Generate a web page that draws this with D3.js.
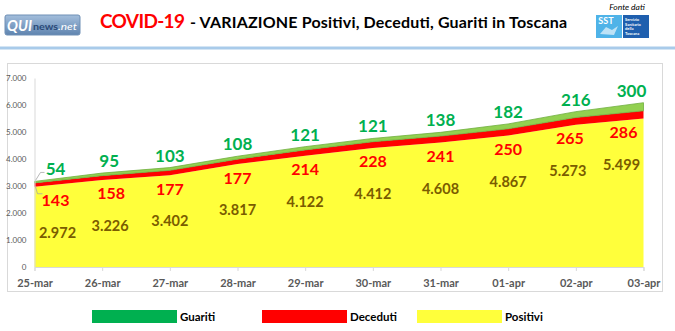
<!DOCTYPE html>
<html><head><meta charset="utf-8">
<script src="https://cdn.jsdelivr.net/npm/d3@7"></script>
<style>
html,body{margin:0;padding:0;background:#fff;}
svg{display:block;font-family:Lato,"Open Sans",sans-serif;}
</style></head>
<body>
<svg id="c" width="675" height="331"></svg>
<script>
const categories = ["25-mar","26-mar","27-mar","28-mar","29-mar","30-mar","31-mar","01-apr","02-apr","03-apr"];
const positivi = [2972,3226,3402,3817,4122,4412,4608,4867,5273,5499];
const deceduti = [143,158,177,177,214,228,241,250,265,286];
const guariti  = [54,95,103,108,121,121,138,182,216,300];
const yTicks = [0,1000,2000,3000,4000,5000,6000,7000];
const seriesNames = ["Positivi","Deceduti","Guariti"];

const svg = d3.select("#c");
const W = 675, H = 331;
svg.append("rect").attr("width",W).attr("height",H).attr("fill","#fff");

const loc = d3.formatLocale({decimal:",",thousands:".",grouping:[3],currency:["",""]});
const fmt = loc.format(",d");

// header
svg.append("rect").attr("x",0).attr("y",46.5).attr("width",W).attr("height",3).attr("fill","#A9CBEA");
svg.append("text").attr("x",100).attr("y",28).attr("font-weight","bold")
  .attr("fill","#FF0000").attr("font-size",19).attr("textLength",85).text("COVID-19");
svg.append("text").attr("x",190).attr("y",28).attr("font-weight","bold")
  .attr("fill","#000").attr("font-size",16).attr("textLength",377).text("- VARIAZIONE Positivi, Deceduti, Guariti in Toscana");

// QUInews logo
const defs = svg.append("defs");
const lg = defs.append("linearGradient").attr("id","qg").attr("x1",0).attr("y1",0).attr("x2",0).attr("y2",1);
lg.append("stop").attr("offset","0%").attr("stop-color","#A3BEDC");
lg.append("stop").attr("offset","100%").attr("stop-color","#5F84AF");
svg.append("rect").attr("x",5).attr("y",15).attr("width",75).attr("height",20).attr("rx",2).attr("fill","url(#qg)").attr("stroke","#6E8FB5");
svg.append("text").attr("x",7).attr("y",31).attr("font-style","italic").attr("font-weight","bold")
  .attr("fill","#fff").attr("font-size",16).attr("textLength",25).attr("lengthAdjust","spacingAndGlyphs").text("QUI");
svg.append("text").attr("x",33).attr("y",30).attr("font-weight","bold")
  .attr("fill","#2B4A78").attr("font-size",10).attr("textLength",25).attr("lengthAdjust","spacingAndGlyphs").text("news");
svg.append("text").attr("x",58).attr("y",30).attr("font-style","italic")
  .attr("fill","#fff").attr("font-size",10).attr("textLength",19).attr("lengthAdjust","spacingAndGlyphs").text(".net");

// SST logo
svg.append("text").attr("x",627).attr("y",10).attr("text-anchor","middle").attr("font-style","italic").attr("font-size",8.5).attr("fill","#000").text("Fonte dati");
svg.append("rect").attr("x",596).attr("y",15).attr("width",26).attr("height",23).attr("fill","#4FB3E8");
svg.append("rect").attr("x",623).attr("y",15).attr("width",26).attr("height",23).attr("fill","#1F5FAE");
svg.append("text").attr("x",606).attr("y",24).attr("text-anchor","middle").attr("font-size",9).attr("font-weight","bold").attr("fill","#fff").text("SST");
svg.append("path").attr("d","M600,34 L606,27 L612,30 L618,26 L614,35 Z").attr("fill","#D8EEF9").attr("opacity",0.8);
["Servizio","Sanitario","della","Toscana"].forEach((t,i)=>{
  svg.append("text").attr("x",625).attr("y",21+i*4.6).attr("font-size",4).attr("font-weight","bold").attr("fill","#fff").text(t);
});

// chart border
svg.append("rect").attr("x",7.5).attr("y",63.5).attr("width",655).attr("height",228).attr("fill","none").attr("stroke","#D9D9D9");

const x = d3.scalePoint().domain(categories).range([34.5,643.5]);
const y = d3.scaleLinear().domain([0,7000]).range([267,78]);

const rows = categories.map((c,i)=>({cat:c,Positivi:positivi[i],Deceduti:deceduti[i],Guariti:guariti[i]}));
const stack = d3.stack().keys(seriesNames)(rows);
const fills = {Positivi:"#FFFF3B",Deceduti:"#FF0000",Guariti:"#92D050"};
const area = d3.area().x(d=>x(d.data.cat)).y0(d=>y(d[0])).y1(d=>y(d[1]));
svg.append("g").selectAll("path").data(stack).join("path")
  .attr("d",area).attr("fill",d=>fills[d.key])
  .attr("stroke",d=>d.key==="Guariti"?"#6FAE3E":"none").attr("stroke-width",0.8);

// axes
const yAxis = d3.axisLeft(y).tickValues(yTicks).tickSize(0).tickPadding(8).tickFormat(fmt);
const gy = svg.append("g").attr("transform","translate(34.5,0)").call(yAxis);
gy.select(".domain").attr("stroke","#D9D9D9");
gy.selectAll("text").attr("font-size",8).attr("fill","#595959").attr("font-family","Lato");

const xAxis = d3.axisBottom(x).tickSize(4).tickPadding(8);
const gx = svg.append("g").attr("transform","translate(0,267)").call(xAxis);
gx.select(".domain").attr("stroke","#D9D9D9");
gx.selectAll("line").attr("stroke","#D9D9D9");
gx.selectAll("text").attr("font-size",11).attr("font-weight","bold").attr("fill","#595959").attr("font-family","Lato");

// leader lines for first point
const x0 = x(categories[0]);
const t0 = positivi[0]+deceduti[0]+guariti[0];
svg.append("polyline").attr("points",`${x0+1},${y(t0)-1} ${x0+6},${y(t0)-9} ${x0+10},${y(t0)-9}`)
  .attr("fill","none").attr("stroke","#A6A6A6").attr("stroke-width",0.8);
svg.append("polyline").attr("points",`${x0+1},${y(positivi[0])} ${x0+3},${y(positivi[0])+7} ${x0+8},${y(positivi[0])+7}`)
  .attr("fill","none").attr("stroke","#A6A6A6").attr("stroke-width",0.8);

// label horizontal nudges (layout only): [guariti, deceduti, positivi]
const nudge = i => i===0 ? [21,21,23] : i===1 ? [7,9,8] : i===8 ? [0,-6,-8] : i===9 ? [-12,-20,-22] : [0,0,0];
const lbl = svg.append("g").attr("font-weight","bold").attr("text-anchor","middle");
categories.forEach((c,i)=>{
  const n = nudge(i);
  const tot = positivi[i]+deceduti[i]+guariti[i];
  lbl.append("text").attr("x",x(c)+n[0]).attr("y",y(tot)-12).attr("dy","0.35em")
    .attr("font-size",17).attr("fill","#00B050").text(fmt(guariti[i]));
  lbl.append("text").attr("x",x(c)+n[1]).attr("y",y(positivi[i])+14).attr("dy","0.35em")
    .attr("font-size",16).attr("fill","#FF0000").text(fmt(deceduti[i]));
  lbl.append("text").attr("x",x(c)+n[2]).attr("y",y(positivi[i])+46).attr("dy","0.35em")
    .attr("font-size",14.5).attr("fill","#7A5C00").text(fmt(positivi[i]));
});

// legend
const legendItems = [
  {key:"Guariti",color:"#00B050",x:92},
  {key:"Deceduti",color:"#FF0000",x:262},
  {key:"Positivi",color:"#FFFF3B",x:417}
];
const lgG = svg.append("g");
legendItems.forEach(it=>{
  lgG.append("rect").attr("x",it.x).attr("y",310).attr("width",85).attr("height",13).attr("fill",it.color);
  lgG.append("text").attr("x",it.x+88).attr("y",317).attr("dy","0.35em").attr("font-size",11.5).attr("font-weight","bold").attr("fill","#000").text(it.key);
});
</script>
</body></html>
